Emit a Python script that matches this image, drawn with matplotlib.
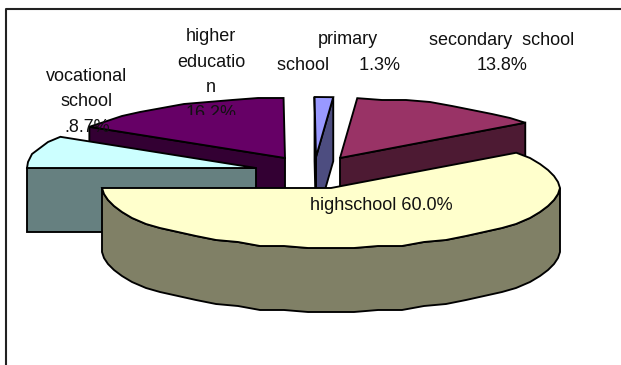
#!/usr/bin/env python3
import matplotlib
matplotlib.use('Agg')
import matplotlib.pyplot as plt
import numpy as np

plt.rcParams['font.family'] = ['Liberation Sans', 'DejaVu Sans']

# Shares go counter-clockwise from the left edge of the ellipse
categories = ['highschool', 'secondary school', 'primary school', 'higher education', 'vocational school']
shares = [60.0, 13.8, 1.3, 16.2, 8.7]
top_colors = ['#FFFFCC', '#993366', '#9999FF', '#660066', '#CCFFFF']
side_colors = ['#808066', '#4D1A33', '#4D4D80', '#330033', '#668080']

# Pie tip of each slice, in canvas pixels
tips_x = [331, 340, 316, 285, 256]
tips_y = [188, 158, 157, 158, 168]

RX, RY = 229, 60
DEPTH = 64
START_ANGLE = 180
DRAW_ORDER = [3, 1, 2, 4, 0]
ANGLE_STEP = 6  # degrees per outline segment
SNAP = 2  # outline points sit on a coarse grid


def rim(cx, cy, a0, a1):
    t = np.radians(np.linspace(a0, a1, max(int(abs(a1 - a0) / ANGLE_STEP), 1) + 1))
    xs = cx + RX * np.cos(t)
    ys = cy - RY * np.sin(t)
    xs[1:-1] = np.round(xs[1:-1] / SNAP) * SNAP
    ys[1:-1] = np.round(ys[1:-1] / SNAP) * SNAP
    return xs, ys


def face(ax, xs, ys, color):
    ax.fill(xs, ys, facecolor=color, edgecolor='black', linewidth=1.35, joinstyle='miter')


def draw_slice(ax, cx, cy, a0, a1, top, side):
    # radial walls that face the viewer
    for a, visible in ((a0, np.cos(np.radians(a0)) > 0), (a1, np.cos(np.radians(a1)) < 0)):
        if visible:
            ex, ey = rim(cx, cy, a, a)
            ex, ey = ex[0], ey[0]
            face(ax, [cx, ex, ex, cx], [cy, ey, ey + DEPTH, cy + DEPTH], side)
    # curved wall along the front half of the ellipse
    lo, hi = max(a0, 180), min(a1, 360)
    if hi > lo:
        xs, ys = rim(cx, cy, lo, hi)
        face(ax, np.r_[xs, xs[::-1]], np.r_[ys, ys[::-1] + DEPTH], side)
    xs, ys = rim(cx, cy, a0, a1)
    face(ax, np.r_[cx, xs], np.r_[cy, ys], top)


fig = plt.figure(figsize=(6.21, 3.65), dpi=100)
ax = fig.add_axes([0, 0, 1, 1])
ax.set_xlim(0, 621)
ax.set_ylim(365, 0)
ax.axis('off')

# chart area border, only the top and left sides fall on the canvas
ax.plot([6, 6, 621], [365, 9, 9], color='#222222', linewidth=1.5)

edges = START_ANGLE + np.r_[0, np.cumsum(shares)] * 3.6
for i in DRAW_ORDER:
    draw_slice(ax, tips_x[i], tips_y[i], edges[i], edges[i + 1], top_colors[i], side_colors[i])

font = dict(fontsize=13, ha='center', va='center', color='#111111', linespacing=1.65)
ax.text(381, 206, f'highschool {shares[0]:.1f}%', **font)
ax.text(502, 53, f'secondary  school\n{shares[1]:.1f}%', **font)
ax.text(348, 40, 'primary', **font)
ax.text(338.5, 66, f'school      {shares[2]:.1f}%', **font)
ax.text(87, 102, f'vocational\nschool\n.{shares[4]:.1f}%', **font)

# the bottom of this label is cut off by its text box
label = ax.text(211, 75, f'higher\neducatio\nn\n{shares[3]:.1f}%', clip_on=True, **font)
label.set_clip_path(plt.Rectangle((150, 20), 120, 95, transform=ax.transData))

fig.savefig('out.png', dpi=100)
